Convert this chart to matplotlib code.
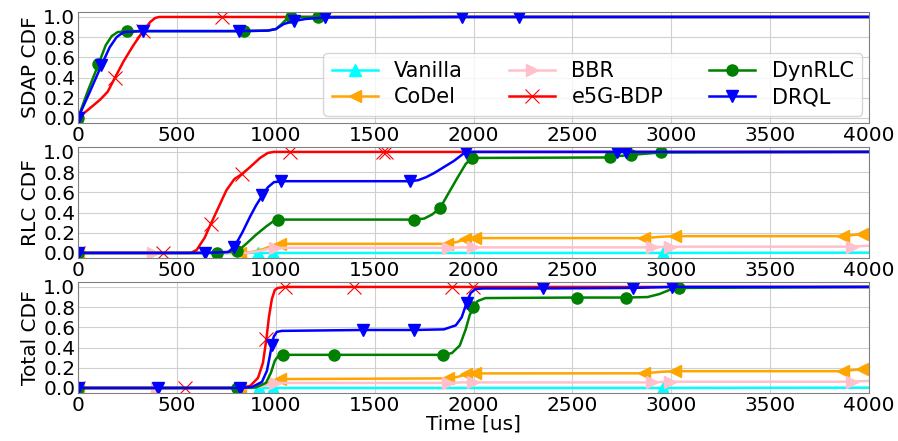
import matplotlib
matplotlib.use('Agg')
import matplotlib.pyplot as plt

plt.rcParams['font.family'] = 'DejaVu Sans'

# ── SDAP CDF (top) ───────────────────────────────────────────────────────────
sdap_bdp_x = [0, 50, 111, 150, 187, 230, 280, 329, 365, 390, 410, 440, 727, 4000]
sdap_bdp_y = [0, 0.08, 0.18, 0.26, 0.40, 0.56, 0.72, 0.86, 0.95, 0.99, 1.0, 1.0, 1.0, 1.0]
sdap_bdp_mk = [0, 4, 7, 12]

sdap_dyn_x = [0, 50, 103, 140, 170, 200, 246, 841, 960, 1000, 1030, 1055, 1076, 1215, 4000]
sdap_dyn_y = [0, 0.27, 0.53, 0.72, 0.81, 0.85, 0.86, 0.86, 0.865, 0.88, 0.93, 0.98, 1.0, 1.0, 1.0]
sdap_dyn_mk = [0, 2, 6, 7, 12, 13]

sdap_drql_x = [0, 60, 118, 160, 195, 230, 327, 814, 960, 1000, 1040, 1092, 1150, 1249, 1943, 2230, 4000]
sdap_drql_y = [0, 0.26, 0.52, 0.70, 0.80, 0.85, 0.86, 0.86, 0.865, 0.88, 0.93, 0.96, 0.98, 0.995, 1.0, 1.0, 1.0]
sdap_drql_mk = [0, 2, 6, 7, 11, 13, 14, 15]

# ── RLC CDF (middle) ─────────────────────────────────────────────────────────
rlc_van_x = [0, 912, 985, 2960, 4000]
rlc_van_y = [0, 0, 0, 0, 0.003]
rlc_van_mk = [0, 1, 2, 3]

rlc_codel_x = [0, 820, 880, 940, 990, 1021, 1863, 1920, 1957, 2008, 2859, 2950, 3019, 3870, 3930, 3966, 4000]
rlc_codel_y = [0, 0, 0.01, 0.04, 0.08, 0.09, 0.09, 0.11, 0.137, 0.147, 0.147, 0.16, 0.166, 0.166, 0.18, 0.186, 0.19]
rlc_codel_mk = [0, 1, 5, 6, 8, 9, 10, 12, 13, 15]

rlc_bbr_x = [0, 381, 850, 920, 960, 996, 1873, 1940, 1999, 2901, 2950, 2994, 3912, 4000]
rlc_bbr_y = [0, 0, 0, 0.02, 0.04, 0.05, 0.05, 0.055, 0.055, 0.055, 0.06, 0.062, 0.062, 0.071]
rlc_bbr_mk = [0, 1, 5, 6, 8, 9, 11, 12]

rlc_bdp_x = [0, 431, 570, 600, 640, 672, 710, 750, 790, 828, 870, 920, 960, 990, 1072, 1541, 1557, 4000]
rlc_bdp_y = [0, 0, 0, 0.03, 0.15, 0.29, 0.45, 0.62, 0.73, 0.78, 0.85, 0.94, 0.99, 1.0, 1.0, 1.0, 1.0, 1.0]
rlc_bdp_mk = [0, 1, 5, 9, 14, 15, 16]

rlc_dyn_x = [0, 701, 806, 850, 900, 950, 985, 1010, 1701, 1750, 1790, 1831, 1870, 1920, 1960, 1991,
             2690, 2740, 2795, 2948, 4000]
rlc_dyn_y = [0, 0, 0.015, 0.09, 0.18, 0.26, 0.31, 0.33, 0.33, 0.34, 0.38, 0.446, 0.58, 0.75, 0.88, 0.94,
             0.945, 0.96, 0.97, 0.995, 1.0]
rlc_dyn_mk = [0, 1, 2, 7, 8, 11, 15, 16, 18, 19]

rlc_drql_x = [0, 642, 760, 790, 830, 870, 900, 932, 960, 990, 1027, 1679, 1720, 1760, 1800, 1850,
              1900, 1940, 1960, 2724, 2770, 4000]
rlc_drql_y = [0, 0, 0.01, 0.06, 0.2, 0.36, 0.47, 0.57, 0.65, 0.70, 0.71, 0.71, 0.72, 0.75, 0.79, 0.85,
              0.91, 0.97, 1.0, 1.0, 1.0, 1.0]
rlc_drql_mk = [0, 1, 3, 7, 10, 11, 18, 19, 20]

# ── Total CDF (bottom) ───────────────────────────────────────────────────────
tot_van_x = [0, 915, 985, 2960, 4000]
tot_van_y = [0, 0, 0, 0, 0.003]
tot_van_mk = [0, 1, 2, 3]

tot_codel_x = [0, 820, 900, 960, 1000, 1021, 1873, 1920, 1962, 2008, 2859, 2950, 3019, 3870, 3930, 3966, 4000]
tot_codel_y = [0, 0, 0.01, 0.05, 0.08, 0.088, 0.095, 0.11, 0.134, 0.144, 0.145, 0.16, 0.166, 0.166, 0.18, 0.186, 0.19]
tot_codel_mk = [0, 1, 5, 6, 8, 9, 10, 12, 13, 15]

tot_bbr_x = [0, 398, 880, 940, 970, 996, 1873, 1940, 1999, 2901, 2950, 2994, 3912, 4000]
tot_bbr_y = [0, 0, 0, 0.02, 0.04, 0.05, 0.05, 0.055, 0.055, 0.055, 0.06, 0.062, 0.062, 0.071]
tot_bbr_mk = [0, 1, 5, 6, 8, 9, 11, 12]

tot_bdp_x = [0, 541, 820, 870, 910, 935, 952, 965, 980, 995, 1010, 1047, 1396, 1890, 1996, 4000]
tot_bdp_y = [0, 0, 0, 0.02, 0.1, 0.25, 0.48, 0.7, 0.88, 0.97, 0.99, 1.0, 1.0, 1.0, 1.0, 1.0]
tot_bdp_mk = [0, 1, 6, 11, 12, 13, 14]

tot_dyn_x = [0, 802, 900, 950, 975, 995, 1010, 1035, 1295, 1847, 1890, 1930, 1960, 1980, 1999, 2020,
             2060, 2522, 2771, 2880, 2940, 2990, 3036, 4000]
tot_dyn_y = [0, 0, 0.005, 0.05, 0.15, 0.27, 0.31, 0.328, 0.328, 0.328, 0.345, 0.42, 0.58, 0.72, 0.797, 0.86,
             0.89, 0.895, 0.895, 0.9, 0.93, 0.97, 0.99, 1.0]
tot_dyn_mk = [0, 1, 7, 8, 9, 14, 17, 18, 22]

tot_drql_x = [0, 406, 819, 880, 930, 955, 970, 980, 990, 1005, 1030, 1443, 1701, 1850, 1910, 1940,
              1965, 1985, 2010, 2050, 2353, 2805, 3002, 4000]
tot_drql_y = [0, 0, 0, 0.01, 0.06, 0.17, 0.32, 0.43, 0.51, 0.555, 0.565, 0.574, 0.574, 0.58, 0.62, 0.7,
              0.845, 0.94, 0.98, 0.985, 0.985, 0.99, 1.0, 1.0]
tot_drql_mk = [0, 1, 2, 7, 11, 12, 16, 20, 21, 22]

names = ['Vanilla', 'CoDel', 'BBR', 'e5G-BDP', 'DynRLC', 'DRQL']
colors = ['cyan', 'orange', 'pink', 'red', 'green', 'blue']
markers = ['^', '<', '>', 'x', 'o', 'v']

panels = [
    ('SDAP CDF', [None, None, None,
                  (sdap_bdp_x, sdap_bdp_y, sdap_bdp_mk),
                  (sdap_dyn_x, sdap_dyn_y, sdap_dyn_mk),
                  (sdap_drql_x, sdap_drql_y, sdap_drql_mk)]),
    ('RLC CDF', [(rlc_van_x, rlc_van_y, rlc_van_mk),
                 (rlc_codel_x, rlc_codel_y, rlc_codel_mk),
                 (rlc_bbr_x, rlc_bbr_y, rlc_bbr_mk),
                 (rlc_bdp_x, rlc_bdp_y, rlc_bdp_mk),
                 (rlc_dyn_x, rlc_dyn_y, rlc_dyn_mk),
                 (rlc_drql_x, rlc_drql_y, rlc_drql_mk)]),
    ('Total CDF', [(tot_van_x, tot_van_y, tot_van_mk),
                   (tot_codel_x, tot_codel_y, tot_codel_mk),
                   (tot_bbr_x, tot_bbr_y, tot_bbr_mk),
                   (tot_bdp_x, tot_bdp_y, tot_bdp_mk),
                   (tot_dyn_x, tot_dyn_y, tot_dyn_mk),
                   (tot_drql_x, tot_drql_y, tot_drql_mk)]),
]

fig = plt.figure(figsize=(8.98, 4.41), dpi=100, facecolor='white')
bottoms = [0.721, 0.415, 0.1088]
axes = []
for (ylabel, series), b in zip(panels, bottoms):
    ax = fig.add_axes([0.0869, b, 0.881, 0.252])
    for k, s in enumerate(series):
        if s is None:
            xs, ys, mk = [], [], []
        else:
            xs, ys, mk = s
        is_x = markers[k] == 'x'
        ax.plot(xs, ys, color=colors[k], marker=markers[k], markevery=mk if mk else None,
                markersize=10 if is_x else 8, linewidth=1.8, label=names[k],
                markeredgewidth=0.8 if is_x else 1.0)
    ax.set_xlim(0, 4000)
    ax.set_ylim(-0.05, 1.05)
    ax.set_xticks(range(0, 4001, 500))
    ax.set_yticks([0, 0.2, 0.4, 0.6, 0.8, 1.0])
    ax.set_yticklabels(['0.0', '0.2', '0.4', '0.6', '0.8', '1.0'])
    ax.tick_params(labelsize=14.5, length=0, pad=2)
    ax.set_ylabel(ylabel, fontsize=14.5, labelpad=2)
    ax.grid(True, color='#d0d0d0', linewidth=0.8)
    ax.set_axisbelow(True)
    for sp in ax.spines.values():
        sp.set_color('#808080')
    axes.append(ax)

axes[0].legend(ncol=3, loc='lower right', bbox_to_anchor=(0.996, 0.03), fontsize=15,
               handlelength=2.2, columnspacing=2.2, borderaxespad=0.2, framealpha=0.8,
               labelspacing=0.3)
axes[2].set_xlabel('Time [us]', fontsize=14.5, labelpad=0)

fig.savefig('out.png', dpi=100, facecolor='white')
